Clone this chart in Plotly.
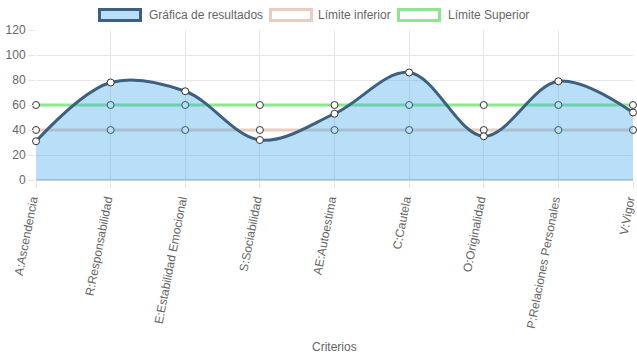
import plotly.graph_objects as go

categories = ["A:Ascendencia", "R:Responsabilidad", "E:Estabilidad Emocional", "S:Sociabilidad",
              "AE:Autoestima", "C:Cautela", "O:Originalidad", "P:Relaciones Personales", "V:Vigor"]
resultados = [31, 78, 71, 32, 53, 86, 35, 79, 54]
limite_inferior = [40, 40, 40, 40, 40, 40, 40, 40, 40]
limite_superior = [60, 60, 60, 60, 60, 60, 60, 60, 60]
y_ticks = [0, 20, 40, 60, 80, 100, 120]

FONT = "Liberation Sans, Arial, Helvetica, sans-serif"
GRAY = "#666666"
BLUE_LINE = "#3d5f80"
BLUE_FILL = "rgba(54,162,235,0.35)"
PINK = "#e7cdc2"
GREEN = "#8fe68f"

W, H = 637, 359
# plot area in page pixels
PX0, PX1, PY0, PY1 = 36, 633, 30, 180
L, R, T, B = PX0, W - PX1, PY0, H - PY1
PW, PH = PX1 - PX0, PY1 - PY0

def px2paper_x(px):
    return (px - PX0) / PW

def px2paper_y(py):
    return (PY1 - py) / PH

fig = go.Figure()

marker_style = dict(size=7, color="white", line=dict(color="#333333", width=1))

fig.add_trace(go.Scatter(x=categories, y=limite_inferior, name="Límite inferior",
                         mode="lines+markers", line=dict(color=PINK, width=3),
                         marker=marker_style, cliponaxis=False, showlegend=False))
fig.add_trace(go.Scatter(x=categories, y=limite_superior, name="Límite Superior",
                         mode="lines+markers", line=dict(color=GREEN, width=3),
                         marker=marker_style, cliponaxis=False, showlegend=False))
fig.add_trace(go.Scatter(x=categories, y=resultados, name="Gráfica de resultados",
                         mode="lines+markers", fill="tozeroy", fillcolor=BLUE_FILL,
                         line=dict(color=BLUE_LINE, width=3, shape="spline", smoothing=1.0),
                         marker=marker_style, cliponaxis=False, showlegend=False))

# Manual legend (boxes like Chart.js)
legend_items = [
    ("Gráfica de resultados", BLUE_FILL, BLUE_LINE, 99.5, 147),
    ("Límite inferior", "white", PINK, 270.5, 316),
    ("Límite Superior", "white", GREEN, 398.5, 446),
]
for text, fillc, linec, bx, tx in legend_items:
    fig.add_shape(type="rect", xref="paper", yref="paper",
                  x0=px2paper_x(bx), x1=px2paper_x(bx + 41),
                  y0=px2paper_y(20.5), y1=px2paper_y(9.5),
                  fillcolor=fillc, line=dict(color=linec, width=3))
    fig.add_annotation(text=text, xref="paper", yref="paper",
                       x=px2paper_x(tx), y=px2paper_y(15), xanchor="left", yanchor="middle",
                       showarrow=False, font=dict(family=FONT, size=12, color=GRAY))

fig.add_annotation(text="Criterios", xref="paper", yref="paper",
                   x=0.5, y=px2paper_y(347), xanchor="center", yanchor="middle",
                   showarrow=False, font=dict(family=FONT, size=12, color=GRAY))

fig.update_layout(
    width=W, height=H,
    margin=dict(l=L, r=R, t=T, b=B, autoexpand=False),
    paper_bgcolor="white", plot_bgcolor="white",
    font=dict(family=FONT, size=12, color=GRAY),
    showlegend=False,
    xaxis=dict(range=[0, len(categories) - 1], tickangle=-79, showgrid=True, automargin=False,
               gridcolor="#e6e6e6", gridwidth=1, ticks="outside", ticklen=7,
               tickcolor="#e6e6e6", tickfont=dict(family=FONT, size=12, color=GRAY),
               ticklabelshift=-4,
               zeroline=False, showline=False, fixedrange=True),
    yaxis=dict(range=[0, 120], tickvals=y_ticks, showgrid=True, gridcolor="#e6e6e6", automargin=False,
               gridwidth=1, ticks="outside", ticklen=7, tickcolor="#e6e6e6",
               tickfont=dict(family=FONT, size=12, color=GRAY),
               zeroline=True, zerolinecolor="#d0d0d0", zerolinewidth=2,
               showline=False, fixedrange=True),
)

fig.write_html("out.html",
               config={"responsive": False, "displayModeBar": False},
               post_script="document.body.style.margin='0';document.body.style.overflow='hidden';")
